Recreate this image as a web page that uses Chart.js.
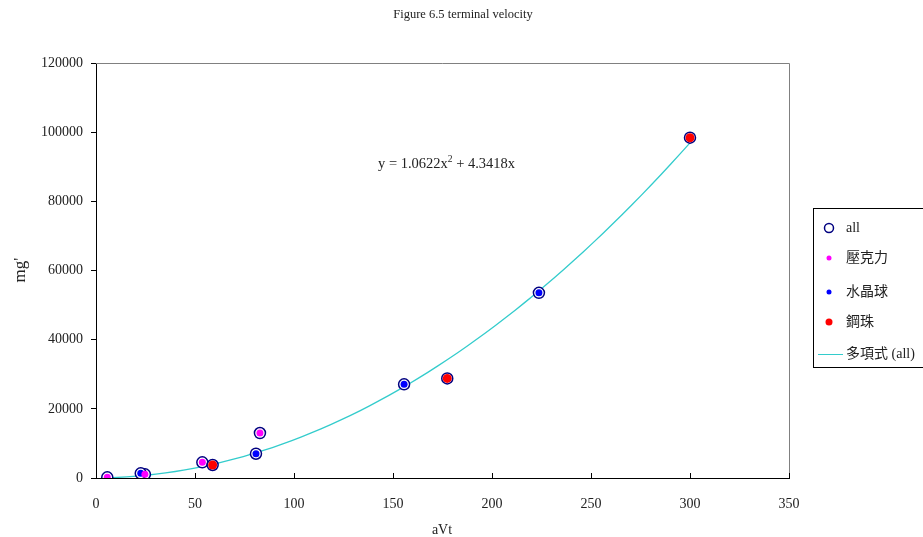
<!DOCTYPE html>
<html>
<head>
<meta charset="utf-8">
<script src="https://cdn.jsdelivr.net/npm/chart.js@4.4.0/dist/chart.umd.min.js"></script>
<style>
  html, body { margin: 0; padding: 0; background: #fff; }
  #wrap { width: 923px; height: 537px; position: relative; }
</style>
</head>
<body>
<div id="wrap"><canvas id="chart" width="923" height="537"></canvas></div>
<script>
// Data
const acrylicX = [5.7, 24.7, 53.7, 82.8];
const acrylicY = [200, 1070, 4540, 13000];
const crystalX = [22.6, 80.8, 155.6, 223.7];
const crystalY = [1360, 7020, 27080, 53550];
const steelX = [58.9, 177.4, 300];
const steelY = [3760, 28800, 98400];

// Printed trendline: y = 1.0622x^2 + 4.3418x
const trendA = 1.0622;
const trendB = 4.3418;

const xTicks = [0, 50, 100, 150, 200, 250, 300, 350];
const yTicks = [0, 20000, 40000, 60000, 80000, 100000, 120000];

const SERIF = '"Liberation Serif", "Times New Roman", serif';
const MIXED = '"Liberation Serif", "Noto Sans CJK TC", serif';

function pts(xs, ys) {
    return xs.map((x, i) => ({ x: x, y: ys[i] }));
}

const allX = acrylicX.concat(crystalX, steelX);
const allY = acrylicY.concat(crystalY, steelY);

// Trendline sampled between smallest and largest x
const trendPts = [];
const xMin = Math.min.apply(null, allX);
const xMax = Math.max.apply(null, allX);
for (let i = 0; i <= 60; i++) {
    const x = xMin + (xMax - xMin) * i / 60;
    trendPts.push({ x: x, y: trendA * x * x + trendB * x });
}

// Title, axis titles, equation, plot frame, inside x ticks and legend
const decorPlugin = {
    id: 'decor',
    afterDraw(chart) {
        const ctx = chart.ctx;
        const a = chart.chartArea;
        const xs = chart.scales.x;
        ctx.save();

        // frame: top/right gray
        ctx.strokeStyle = '#808080';
        ctx.lineWidth = 1;
        ctx.beginPath();
        ctx.moveTo(a.left, a.top + 0.5);
        ctx.lineTo(a.right + 0.5, a.top + 0.5);
        ctx.lineTo(a.right + 0.5, a.bottom);
        ctx.stroke();

        // x ticks pointing inside
        ctx.strokeStyle = '#000';
        ctx.beginPath();
        xTicks.forEach(v => {
            const px = Math.round(xs.getPixelForValue(v)) + 0.5;
            ctx.moveTo(px, a.bottom);
            ctx.lineTo(px, a.bottom - 5);
        });
        ctx.stroke();

        ctx.fillStyle = '#222';
        ctx.textAlign = 'center';
        ctx.textBaseline = 'middle';
        ctx.font = '12.5px ' + SERIF;
        ctx.fillText('Figure 6.5 terminal velocity', 463, 15);

        ctx.font = '14px ' + SERIF;
        ctx.fillText('aVt', 442, 530);

        ctx.save();
        ctx.translate(21, 270);
        ctx.rotate(-Math.PI / 2);
        ctx.font = '17px ' + SERIF;
        ctx.fillText("mg'", 0, 0);
        ctx.restore();

        // equation
        ctx.textAlign = 'left';
        ctx.textBaseline = 'alphabetic';
        ctx.font = '14.5px ' + SERIF;
        let tx = 378;
        const ty = 168;
        const p1 = 'y = 1.0622x';
        ctx.fillText(p1, tx, ty);
        tx += ctx.measureText(p1).width;
        ctx.font = '9.5px ' + SERIF;
        ctx.fillText('2', tx, ty - 6);
        tx += ctx.measureText('2').width;
        ctx.font = '14.5px ' + SERIF;
        ctx.fillText(' + 4.3418x', tx, ty);

        // legend
        ctx.strokeStyle = '#000';
        ctx.lineWidth = 1;
        ctx.fillStyle = '#fff';
        ctx.fillRect(813, 208, 115, 159);
        ctx.strokeRect(813.5, 208.5, 115, 159);
        const items = [
            { y: 228, kind: 'ring', text: 'all' },
            { y: 258, kind: 'dot', color: '#ff00ff', text: '壓克力' },
            { y: 292, kind: 'dot', color: '#0000ff', text: '水晶球' },
            { y: 322, kind: 'dot', color: '#ff0000', text: '鋼珠', r: 3.5 },
            { y: 354, kind: 'line', text: '多項式 (all)' }
        ];
        ctx.textBaseline = 'middle';
        items.forEach(it => {
            if (it.kind === 'ring') {
                ctx.beginPath();
                ctx.arc(829, it.y, 4.5, 0, Math.PI * 2);
                ctx.strokeStyle = '#000080';
                ctx.lineWidth = 1.5;
                ctx.stroke();
            } else if (it.kind === 'dot') {
                ctx.beginPath();
                ctx.arc(829, it.y, it.r || 2.5, 0, Math.PI * 2);
                ctx.fillStyle = it.color;
                ctx.fill();
            } else {
                ctx.beginPath();
                ctx.moveTo(818, it.y + 0.5);
                ctx.lineTo(843, it.y + 0.5);
                ctx.strokeStyle = '#33cccc';
                ctx.lineWidth = 1;
                ctx.stroke();
            }
            ctx.fillStyle = '#222';
            ctx.font = '14px ' + MIXED;
            ctx.fillText(it.text, 846, it.y);
        });

        ctx.restore();
    }
};

new Chart(document.getElementById('chart').getContext('2d'), {
    type: 'scatter',
    data: {
        datasets: [
            {
                label: '壓克力',
                data: pts(acrylicX, acrylicY),
                backgroundColor: '#ff00ff',
                borderColor: '#ff00ff',
                borderWidth: 0,
                pointRadius: 3.5,
                order: 0
            },
            {
                label: '水晶球',
                data: pts(crystalX, crystalY),
                backgroundColor: '#0000ff',
                borderColor: '#0000ff',
                borderWidth: 0,
                pointRadius: 3.5,
                order: 0
            },
            {
                label: '鋼珠',
                data: pts(steelX, steelY),
                backgroundColor: '#ff0000',
                borderColor: '#ff0000',
                borderWidth: 0,
                pointRadius: 4.5,
                order: 0
            },
            {
                label: 'all',
                data: pts(allX, allY),
                backgroundColor: '#ffffff',
                borderColor: '#000080',
                borderWidth: 1.5,
                pointRadius: 5.5,
                order: 1
            },
            {
                label: '多項式 (all)',
                type: 'line',
                data: trendPts,
                borderColor: '#33cccc',
                borderWidth: 1.3,
                pointRadius: 0,
                fill: false,
                tension: 0,
                order: 2
            }
        ]
    },
    options: {
        responsive: false,
        animation: false,
        layout: { padding: { top: 63, right: 134, left: 0, bottom: 0 } },
        plugins: {
            legend: { display: false },
            title: { display: false },
            tooltip: { enabled: false }
        },
        scales: {
            x: {
                type: 'linear',
                min: 0,
                max: 350,
                afterFit: s => { s.height = 59; },
                afterBuildTicks: s => { s.ticks = xTicks.map(v => ({ value: v })); },
                grid: { display: true, drawOnChartArea: false, drawTicks: false, color: '#000' },
                border: { color: '#000', width: 1 },
                ticks: { padding: 18, color: '#222', font: { family: SERIF, size: 14 },
                         callback: v => String(v) }
            },
            y: {
                type: 'linear',
                min: 0,
                max: 120000,
                afterFit: s => { s.width = 96; },
                afterBuildTicks: s => { s.ticks = yTicks.map(v => ({ value: v })); },
                grid: { drawOnChartArea: false, drawTicks: true, tickLength: 5, color: '#000' },
                border: { color: '#000', width: 1 },
                ticks: { padding: 8, color: '#222', font: { family: SERIF, size: 14 },
                         callback: v => String(v) }
            }
        }
    },
    plugins: [decorPlugin]
});
</script>
</body>
</html>
